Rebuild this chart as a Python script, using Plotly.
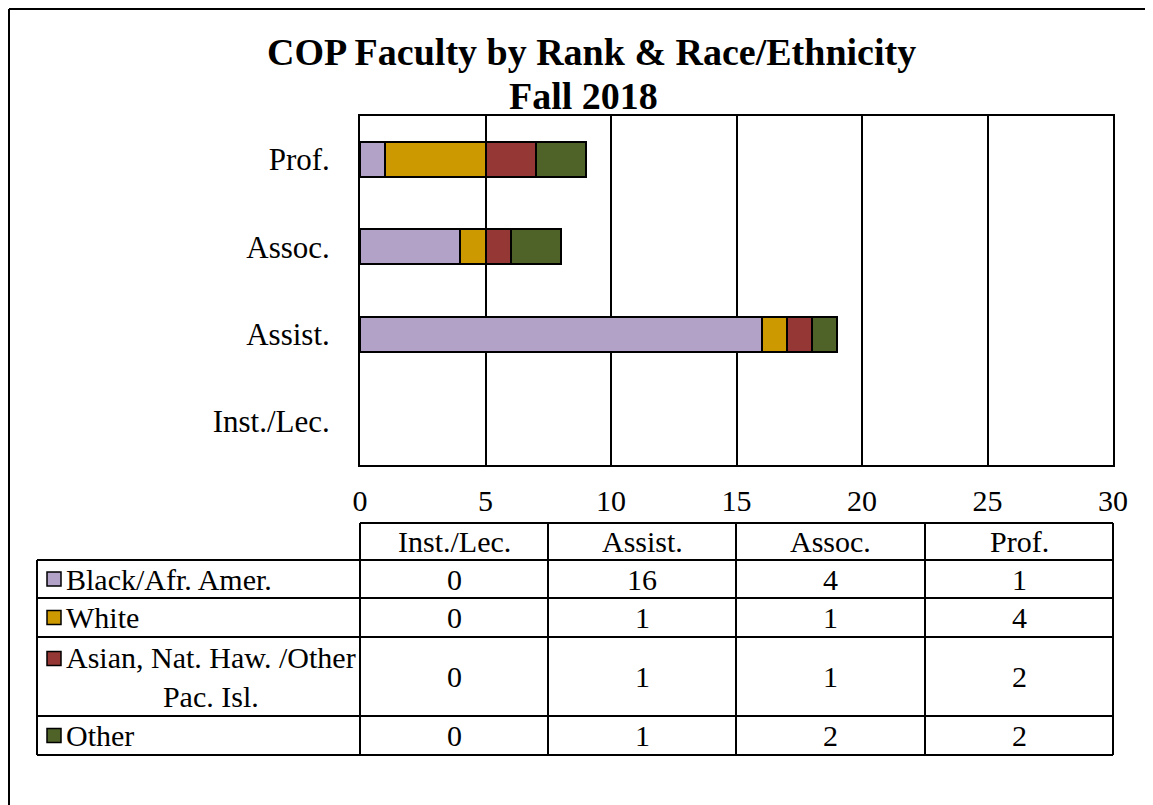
import plotly.graph_objects as go

ranks = ["Inst./Lec.", "Assist.", "Assoc.", "Prof."]
groups = ["Black/Afr. Amer.", "White", "Asian, Nat. Haw. /Other<br>Pac. Isl.", "Other"]
black = [0, 16, 4, 1]
white = [0, 1, 1, 4]
asian = [0, 1, 1, 2]
other = [0, 1, 2, 2]
colors = ["#B3A2C7", "#CC9900", "#953735", "#4F6228"]
x_ticks = [0, 5, 10, 15, 20, 25, 30]
title_lines = ["COP Faculty by Rank & Race/Ethnicity", "Fall 2018"]

W, H = 1153, 805
PAGE_OFFSET = 8  # default body margin of the html page
FONT = "Liberation Serif, Times New Roman, serif"


def px(x):
    return (x - PAGE_OFFSET) / W


def py(y):
    return 1 - (y - PAGE_OFFSET) / H


series = [black, white, asian, other]
fig = go.Figure()
for name, vals, col in zip(groups, series, colors):
    fig.add_trace(go.Bar(
        y=ranks, x=[v if v else None for v in vals], name=name, orientation="h",
        marker=dict(color=col, line=dict(color="black", width=2)),
        width=0.4, showlegend=False,
    ))

shapes = []
annotations = []

# outer frame (only top and left visible in the reference)
shapes.append(dict(type="line", xref="paper", yref="paper", x0=px(9), x1=px(1200), y0=py(9), y1=py(9),
                   line=dict(color="black", width=2)))
shapes.append(dict(type="line", xref="paper", yref="paper", x0=px(9), x1=px(9), y0=py(9), y1=py(900),
                   line=dict(color="black", width=2)))

# title
title_font = dict(family=FONT, size=38, color="black")
annotations.append(dict(xref="paper", yref="paper", x=px(591), y=py(52), text="<b>%s</b>" % title_lines[0],
                        showarrow=False, font=title_font, xanchor="center", yanchor="middle"))
annotations.append(dict(xref="paper", yref="paper", x=px(583), y=py(96), text="<b>%s</b>" % title_lines[1],
                        showarrow=False, font=title_font, xanchor="center", yanchor="middle"))

# data table under the chart
col_edges = [360, 548, 736, 925, 1113]
row_edges = [523, 560, 598, 637, 716, 755]
left_edge = 37
line = dict(color="black", width=2)

shapes.append(dict(type="line", xref="paper", yref="paper", x0=px(col_edges[0]), x1=px(col_edges[-1]),
                   y0=py(row_edges[0]), y1=py(row_edges[0]), line=line))
for r in row_edges[1:]:
    shapes.append(dict(type="line", xref="paper", yref="paper", x0=px(left_edge), x1=px(col_edges[-1]),
                       y0=py(r), y1=py(r), line=line))
for c in col_edges:
    shapes.append(dict(type="line", xref="paper", yref="paper", x0=px(c), x1=px(c),
                       y0=py(row_edges[0]), y1=py(row_edges[-1]), line=line))
shapes.append(dict(type="line", xref="paper", yref="paper", x0=px(left_edge), x1=px(left_edge),
                   y0=py(row_edges[1]), y1=py(row_edges[-1]), line=line))

cell_font = dict(family=FONT, size=30, color="black")
for i, rank in enumerate(ranks):
    cx = (col_edges[i] + col_edges[i + 1]) / 2
    annotations.append(dict(xref="paper", yref="paper", x=px(cx), y=py((row_edges[0] + row_edges[1]) / 2),
                            text=rank, showarrow=False, font=cell_font, xanchor="center", yanchor="middle"))

for j, (name, vals, col) in enumerate(zip(groups, series, colors)):
    top, bot = row_edges[j + 1], row_edges[j + 2]
    cy = (top + bot) / 2
    key_y = cy - 18 if "<br>" in name else cy
    shapes.append(dict(type="rect", xref="paper", yref="paper", x0=px(47), x1=px(61),
                       y0=py(key_y - 7), y1=py(key_y + 7), fillcolor=col, line=dict(color="black", width=1.5)))
    annotations.append(dict(xref="paper", yref="paper", x=px(64), y=py(cy), text=name, showarrow=False,
                            font=cell_font, xanchor="left", yanchor="middle", align="center"))
    for i, v in enumerate(vals):
        cx = (col_edges[i] + col_edges[i + 1]) / 2
        annotations.append(dict(xref="paper", yref="paper", x=px(cx), y=py(cy), text=str(v),
                                showarrow=False, font=cell_font, xanchor="center", yanchor="middle"))

fig.update_layout(
    width=W, height=H,
    margin=dict(l=0, r=0, t=0, b=0, autoexpand=False),
    paper_bgcolor="white", plot_bgcolor="white",
    barmode="stack",
    xaxis=dict(domain=[px(360), px(1113)], range=[0, 30], tickvals=x_ticks,
               showgrid=True, gridcolor="black", gridwidth=1.5,
               showline=True, linecolor="black", linewidth=2, mirror=True,
               zeroline=False, ticks="", ticklabelstandoff=8, automargin=False,
               tickfont=dict(family=FONT, size=30, color="black")),
    yaxis=dict(domain=[py(465), py(116)], categoryorder="array", categoryarray=ranks,
               showgrid=False, showline=True, linecolor="black", linewidth=2, mirror=True,
               ticks="", ticklabelstandoff=22, automargin=False,
               tickfont=dict(family=FONT, size=31, color="black")),
    shapes=shapes,
    annotations=annotations,
)

fig.write_html("out.html")
